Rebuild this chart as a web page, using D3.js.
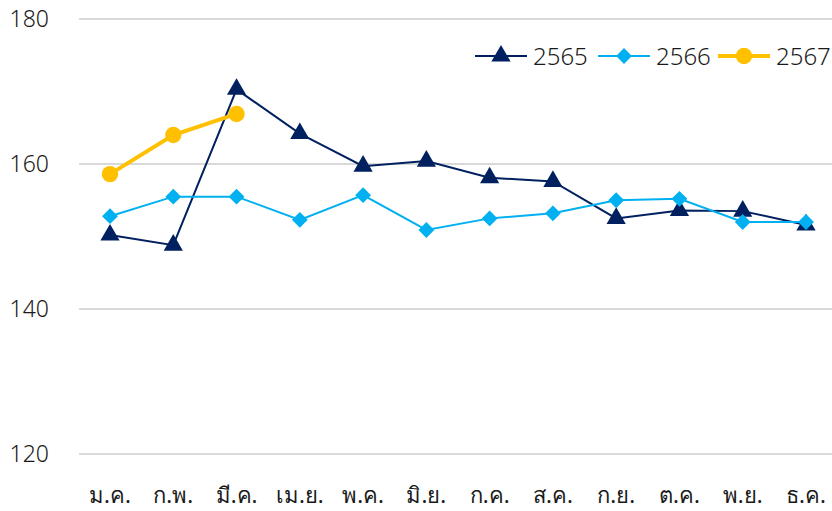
<!DOCTYPE html>
<html><head><meta charset="utf-8">
<script src="https://cdn.jsdelivr.net/npm/d3@7"></script>
<style>body{margin:0;background:#fff}svg{display:block}text{font-family:"Noto Sans","DejaVu Sans",sans-serif;fill:#1a1a1a}</style>
</head><body>
<svg id="c" width="832" height="511"></svg>
<script>
const months = ["ม.ค.","ก.พ.","มี.ค.","เม.ย.","พ.ค.","มิ.ย.","ก.ค.","ส.ค.","ก.ย.","ต.ค.","พ.ย.","ธ.ค."];
const s2565 = [150.2,148.8,170.3,164.2,159.7,160.4,158.1,157.6,152.5,153.6,153.5,151.6];
const s2566 = [152.8,155.5,155.5,152.3,155.7,150.9,152.5,153.2,155.0,155.2,152.0,152.0];
const s2567 = [158.6,164.0,166.9];
const yTicks = [120,140,160,180];
const seriesNames = ["2565","2566","2567"];

const svg = d3.select("#c");
const x = d3.scalePoint().domain(months).range([110,806]);
const y = d3.scaleLinear().domain([120,180]).range([454,19]);

svg.append("g").selectAll("line").data(yTicks).join("line")
  .attr("x1",79).attr("x2",832).attr("y1",d=>y(d)).attr("y2",d=>y(d))
  .attr("stroke","#d9d9d9").attr("stroke-width",2);
svg.append("g").selectAll("text").data(yTicks).join("text")
  .attr("x",49).attr("y",d=>y(d)+8).attr("text-anchor","end")
  .attr("font-size",23).attr("font-weight",300).text(d=>d);
svg.append("g").selectAll("text").data(months).join("text")
  .attr("x",d=>x(d)).attr("y",503).attr("text-anchor","middle")
  .attr("font-size",22).text(d=>d);

const line = d3.line().x((d,i)=>x(months[i])).y(d=>y(d));
const series = [
  {name:"2565", data:s2565, color:"#002060", w:2, sym:d3.symbolTriangle, size:160, rot:0},
  {name:"2566", data:s2566, color:"#00B0F0", w:2, sym:d3.symbolSquare, size:125, rot:45},
  {name:"2567", data:s2567, color:"#FFC000", w:4, sym:d3.symbolCircle, size:210, rot:0}
];
series.forEach(s=>{
  const g = svg.append("g");
  g.append("path").attr("d",line(s.data)).attr("fill","none").attr("stroke",s.color).attr("stroke-width",s.w);
  g.selectAll("path.m").data(s.data).join("path").attr("class","m")
    .attr("transform",(d,i)=>`translate(${x(months[i])},${y(d)}) rotate(${s.rot})`)
    .attr("d",d3.symbol().type(s.sym).size(s.size)).attr("fill",s.color);
});

const legX = [475,598,718];
series.forEach((s,i)=>{
  const g = svg.append("g").attr("transform",`translate(${legX[i]},56)`);
  g.append("line").attr("x1",0).attr("x2",52).attr("stroke",s.color).attr("stroke-width",s.w);
  g.append("path").attr("transform",`translate(26,0) rotate(${s.rot})`).attr("d",d3.symbol().type(s.sym).size(s.size)).attr("fill",s.color);
  g.append("text").attr("x",58).attr("y",9).attr("font-size",24).attr("font-weight",300).text(seriesNames[i]);
});
</script>
</body></html>
